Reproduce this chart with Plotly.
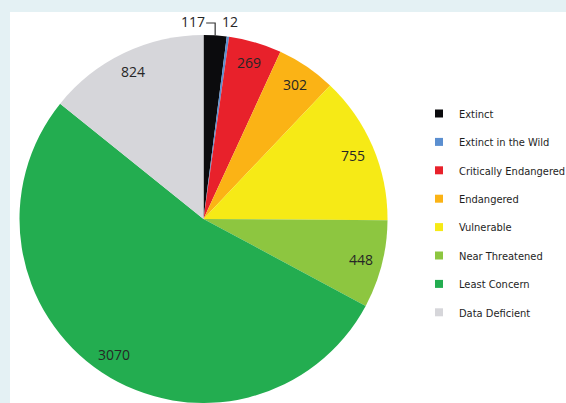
import math
import plotly.graph_objects as go

# IUCN Red List status counts
categories = ["Extinct", "Extinct in the Wild", "Critically Endangered", "Endangered",
              "Vulnerable", "Near Threatened", "Least Concern", "Data Deficient"]
counts = [117, 12, 269, 302, 755, 448, 3070, 824]
colors = ["#0b0b0d", "#5b8fd0", "#e8212b", "#fbb315", "#f6ea16", "#8dc640", "#23ad50", "#d6d6da"]

W, H = 566, 403
CX, CY, R = 203.5, 219, 184   # pie centre and radius, in pixels
LABEL_R = 163                 # radius of the value labels
LABEL_FONT = dict(family="Open Sans, sans-serif", size=14, color="#262626")

fig = go.Figure()

fig.add_trace(go.Pie(
    labels=categories,
    values=counts,
    marker=dict(colors=colors, line=dict(width=0)),
    sort=False,
    direction="clockwise",
    rotation=0,
    textinfo="none",
    hoverinfo="label+value",
    showlegend=False,
    domain=dict(x=[(CX - R) / W, (CX + R) / W],
                y=[max(0, 1 - (CY + R) / H), 1 - (CY - R) / H]),
))

# legend entries as square markers
for name, col in zip(categories, colors):
    fig.add_trace(go.Scatter(
        x=[None], y=[None], mode="markers", name=name, legendgroup=name,
        marker=dict(symbol="square", size=8, color=col),
    ))


def px_to_paper(x, y):
    return x / W, 1 - y / H


total = sum(counts)
annotations = []
shapes = []
start = 0
for i, (name, v) in enumerate(zip(categories, counts)):
    mid = (start + v / 2) / total * 2 * math.pi
    start += v
    if i < 2:
        continue
    x = CX + LABEL_R * math.sin(mid)
    y = CY - LABEL_R * math.cos(mid)
    px, py = px_to_paper(x, y)
    annotations.append(dict(x=px, y=py, xref="paper", yref="paper", text=str(v),
                            showarrow=False, xanchor="center", yanchor="middle",
                            font=LABEL_FONT))

# small slices: labels above the pie, with a leader for the first one
mid0 = counts[0] / 2 / total * 2 * math.pi
tip_x = CX + R * math.sin(mid0)
tip_y = CY - R * math.cos(mid0)
lead_y = 23
annotations.append(dict(x=(tip_x - 22) / W, y=1 - 21 / H, xref="paper", yref="paper",
                        text=str(counts[0]), showarrow=False, xanchor="center", yanchor="middle",
                        font=LABEL_FONT))
annotations.append(dict(x=(tip_x + 15) / W, y=1 - 21 / H, xref="paper", yref="paper",
                        text=str(counts[1]), showarrow=False, xanchor="center", yanchor="middle",
                        font=LABEL_FONT))
x0, y0 = px_to_paper(tip_x - 9, lead_y)
x1, y1 = px_to_paper(tip_x, lead_y)
x2, y2 = px_to_paper(tip_x, tip_y)
shapes.append(dict(type="path", xref="paper", yref="paper",
                   path=f"M {x0},{y0} L {x1},{y1} L {x2},{y2}",
                   line=dict(color="#333333", width=1.2)))

# white panel behind the chart
shapes.insert(0, dict(type="rect", xref="paper", yref="paper", layer="below",
                      x0=10 / W, x1=1, y0=0, y1=1 - 12 / H,
                      fillcolor="white", line=dict(width=0)))

fig.update_layout(
    width=W, height=H,
    margin=dict(l=0, r=0, t=0, b=0, autoexpand=False),
    paper_bgcolor="#e4f1f4",
    plot_bgcolor="rgba(0,0,0,0)",
    xaxis=dict(visible=False),
    yaxis=dict(visible=False),
    annotations=annotations,
    shapes=shapes,
    legend=dict(x=419 / W, y=1 - 99 / H, xanchor="left", yanchor="top",
                bgcolor="rgba(0,0,0,0)", tracegroupgap=9.4,
                font=dict(family="DejaVu Sans Condensed, sans-serif",
                          size=11, color="#1e1e1e")),
)

fig.write_html("out.html")
